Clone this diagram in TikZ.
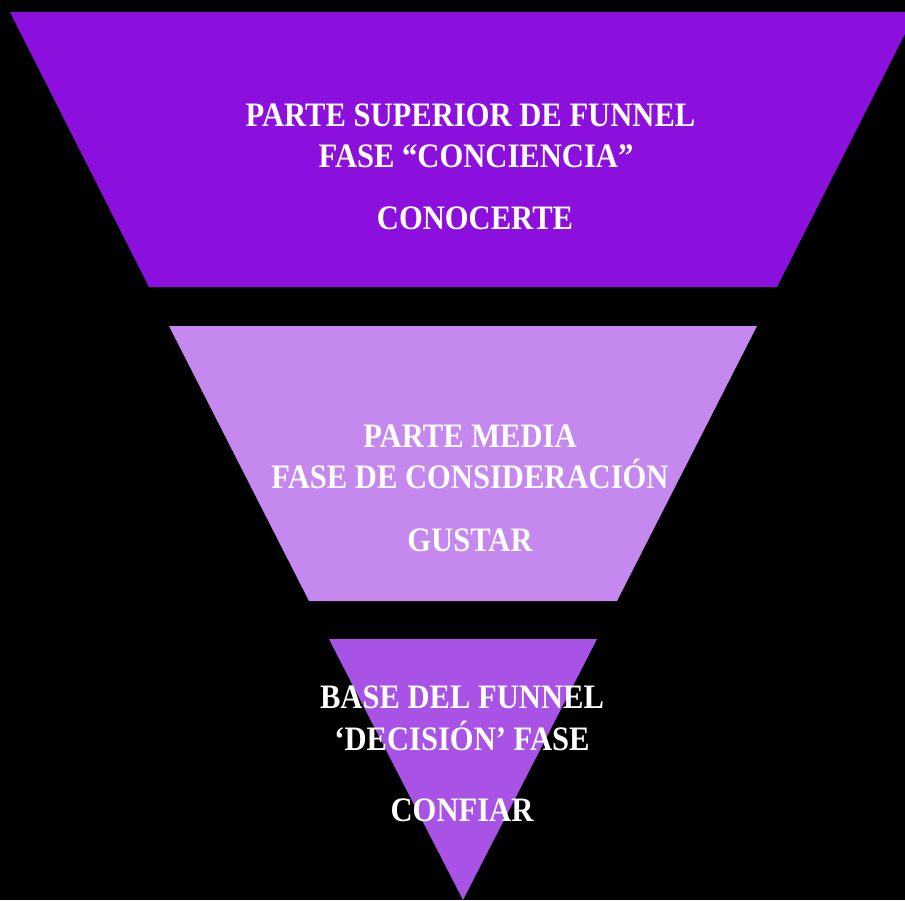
\documentclass[tikz,border=0pt]{standalone}
\usepackage{fontspec}
\setmainfont{Liberation Serif}
\definecolor{topc}{RGB}{139,16,221}
\definecolor{midc}{RGB}{196,136,238}
\definecolor{botc}{RGB}{168,82,230}
\begin{document}
\begin{tikzpicture}[x=1pt,y=-1pt,
  lbl/.style={text=white, font=\fontsize{30.6}{36}\selectfont\bfseries, anchor=base, inner sep=0pt, yscale=1.12}]
\fill[black] (0,0) rectangle (905,900);
\useasboundingbox (0,0) rectangle (905,900);
% shapes
\fill[topc] (10,12) -- (916,12) -- (777,287) -- (149,287) -- cycle;
\fill[midc] (169,326) -- (757,326) -- (617,601) -- (309,601) -- cycle;
\fill[botc] (329,639) -- (597,639) -- (463,900) -- cycle;
% top texts
\node[lbl] (t1) at (470.5,126) {PARTE SUPERIOR DE FUNNEL};
\node[lbl] (t2) at (476,167) {FASE “CONCIENCIA”};
\node[lbl] (t3) at (475,229) {CONOCERTE};
% middle texts
\node[lbl] (m1) at (470,447) {PARTE MEDIA};
\node[lbl] (m2) at (470,488) {FASE DE CONSIDERACIÓN};
\node[lbl] (m3) at (470,551) {GUSTAR};
% bottom texts
\node[lbl] (b1) at (462,708) {BASE DEL FUNNEL};
\node[lbl] (b2) at (462,750) {‘DECISIÓN’ FASE};
\node[lbl] (b3) at (462,821) {CONFIAR};
\end{tikzpicture}
\end{document}
